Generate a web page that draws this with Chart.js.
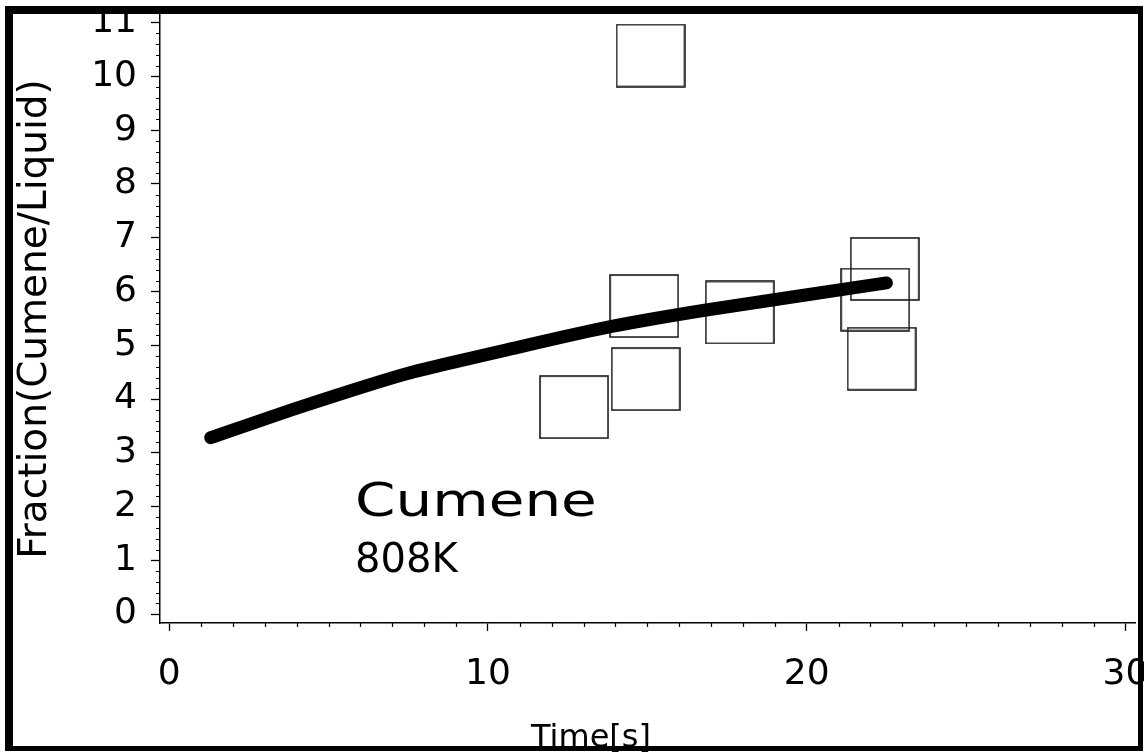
<!DOCTYPE html>
<html>
<head>
<meta charset="utf-8">
<script src="https://cdn.jsdelivr.net/npm/chart.js@4"></script>
<style>
  html, body { margin: 0; padding: 0; background: #fff; }
</style>
</head>
<body>
<canvas id="grafico" width="1144" height="753"></canvas>
<script>
// Curva ajustada (línea gruesa)
const tiempoCurva = [1.3, 4.1, 7.5, 11.0, 13.8, 16.9, 22.5];
const fraccionCurva = [3.28, 3.85, 4.48, 4.97, 5.34, 5.66, 6.16];

// Puntos medidos (cuadros abiertos)
const tiempoMedido = [15.1, 14.9, 14.95, 12.7, 17.9, 22.45, 22.15, 22.35];
const fraccionMedida = [10.39, 5.73, 4.37, 3.85, 5.61, 6.42, 5.85, 4.75];

// Etiquetas de los ejes
const ticksX = [0, 10, 20, 30];
const ticksY = [0, 1, 2, 3, 4, 5, 6, 7, 8, 9, 10, 11];

const FUENTE = '"DejaVu Sans", sans-serif';
Chart.defaults.font.family = FUENTE;
Chart.defaults.color = '#000';

// Cuadro abierto como estilo de punto
function cuadro(w, h) {
  const c = document.createElement('canvas');
  c.width = w;
  c.height = h;
  const g = c.getContext('2d');
  g.strokeStyle = '#1a1a1a';
  g.lineWidth = 1.6;
  g.strokeRect(1, 1, w - 2, h - 2);
  return c;
}

// Ticks menores, textos y marco
const extras = {
  id: 'extras',
  afterDraw(chart) {
    const ctx = chart.ctx;
    const x = chart.scales.x;
    const y = chart.scales.y;
    ctx.save();
    ctx.strokeStyle = '#000';
    ctx.lineWidth = 1.2;
    ctx.beginPath();
    for (let v = 0; v <= 30; v++) {
      if (v % 10 === 0) continue;
      const px = Math.round(x.getPixelForValue(v)) + 0.5;
      ctx.moveTo(px, x.top);
      ctx.lineTo(px, x.top + 4);
    }
    for (let i = 0; i <= 55; i++) {
      if (i % 5 === 0) continue;
      const py = Math.round(y.getPixelForValue(i / 5)) + 0.5;
      ctx.moveTo(y.right - 4, py);
      ctx.lineTo(y.right, py);
    }
    ctx.stroke();

    ctx.fillStyle = '#000';
    ctx.textBaseline = 'alphabetic';
    ctx.textAlign = 'left';

    // "Cumene" (fuente ancha)
    ctx.save();
    ctx.translate(x.getPixelForValue(5.83), y.getPixelForValue(1.82));
    ctx.scale(1.26, 1);
    ctx.font = '46px ' + FUENTE;
    ctx.fillText('Cumene', 0, 0);
    ctx.restore();

    ctx.font = '40px ' + FUENTE;
    ctx.fillText('808K', x.getPixelForValue(5.83), y.getPixelForValue(0.78));

    ctx.textAlign = 'center';
    ctx.font = '32px ' + FUENTE;
    ctx.fillText('Time[s]', 591, 747);

    // marco negro
    ctx.fillRect(5, 6, 1138, 8);
    ctx.fillRect(5, 6, 8, 745);
    ctx.fillRect(1138, 6, 5, 745);
    ctx.fillRect(5, 746, 1138, 5);
    ctx.restore();
  }
};

new Chart(document.getElementById('grafico'), {
  type: 'line',
  data: {
    datasets: [
      {
        label: 'Curva',
        data: tiempoCurva.map((t, i) => ({ x: t, y: fraccionCurva[i] })),
        borderColor: '#000',
        borderWidth: 13,
        borderCapStyle: 'round',
        borderJoinStyle: 'round',
        pointRadius: 0,
        tension: 0.2,
        fill: false,
        order: 0
      },
      {
        label: 'Medido',
        data: tiempoMedido.map((t, i) => ({ x: t, y: fraccionMedida[i] })),
        showLine: false,
        pointStyle: cuadro(70, 64),
        pointRadius: 32,
        order: 1
      }
    ]
  },
  options: {
    responsive: false,
    animation: false,
    layout: { autoPadding: false, padding: { left: 0, top: 15, right: 9, bottom: 0 } },
    plugins: {
      legend: { display: false },
      tooltip: { enabled: false }
    },
    scales: {
      x: {
        type: 'linear',
        min: -0.29,
        max: 30.3,
        afterFit: s => {
          s.height = 130;
          s.paddingLeft = 0;
          s.paddingRight = 0;
        },
        afterBuildTicks: s => { s.ticks = ticksX.map(v => ({ value: v })); },
        grid: { drawOnChartArea: false, tickLength: 8, tickColor: '#000', tickWidth: 1.3 },
        border: { display: true, color: '#000', width: 1.5 },
        ticks: { font: { size: 36 }, padding: 22, maxRotation: 0 }
      },
      y: {
        type: 'linear',
        min: -0.167,
        max: 11.144,
        afterFit: s => {
          s.width = 160;
          s.paddingTop = 0;
          s.paddingBottom = 0;
        },
        afterBuildTicks: s => { s.ticks = ticksY.map(v => ({ value: v })); },
        grid: { drawOnChartArea: false, tickLength: 9, tickColor: '#000', tickWidth: 1.3 },
        border: { display: true, color: '#000', width: 1.5 },
        ticks: { font: { size: 36 }, padding: 14 },
        title: {
          display: true,
          text: 'Fraction(Cumene/Liquid)',
          font: { size: 39 },
          padding: { top: 12, bottom: 0 }
        }
      }
    }
  },
  plugins: [extras]
});
</script>
</body>
</html>
